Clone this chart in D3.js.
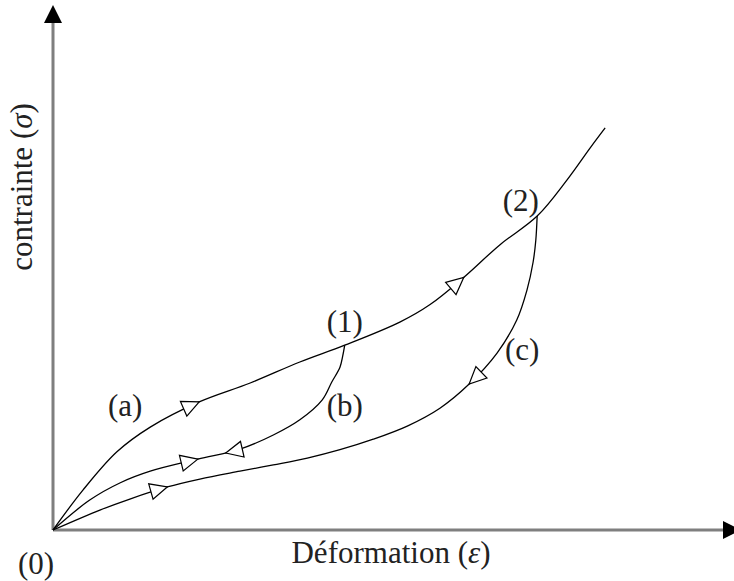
<!DOCTYPE html>
<html>
<head>
<meta charset="utf-8">
<script src="https://cdn.jsdelivr.net/npm/d3@7"></script>
<style>
  body { margin: 0; background: #fff; }
  svg { display: block; }
  text { font-family: "Liberation Serif", "DejaVu Serif", serif; fill: #222; }
</style>
</head>
<body>
<svg id="chart"></svg>
<script>
// strain / stress in arbitrary units (0..100 along each axis)
const loadA = [[0,0],[4.4,7.6],[9.4,14.9],[14.3,19.6],[21.5,24.4],[29.0,28.0],[36.3,32.0],[42.9,35.2],
  [51.0,39.6],[55.4,42.9],[60.3,48.0],[65.7,54.3],[71.2,59.8],[75.6,66.7],[79.0,72.8],[81.2,76.6]];
const unloadB = [[42.9,35.2],[42.6,33.1],[42.2,31.0],[41.0,28.2],[39.6,24.8],[36.3,21.0],[32.4,18.1],
  [27.5,15.4],[21.3,13.5],[14.3,11.2],[9.9,9.0],[5.4,5.7],[0,0]];
const unloadC = [[71.2,59.8],[71.0,55.2],[70.6,51.0],[69.7,45.7],[68.2,40.0],[65.3,33.7],[61.2,27.8],
  [56.9,23.2],[52.1,19.8],[47.1,17.3],[42.2,15.3],[37.4,13.7],[32.4,12.4],[27.5,11.2],[21.6,9.7],
  [16.8,8.2],[11.3,5.9],[6.9,3.8],[0,0]];

// arrow tips: which curve, strain at the tip, +1 = pointing to larger strain
const arrows = [
  {curve: 0, x: 21.5, dir: 1}, {curve: 0, x: 60.4, dir: 1},
  {curve: 1, x: 21.3, dir: 1}, {curve: 1, x: 25.4, dir: -1},
  {curve: 2, x: 61.2, dir: -1}, {curve: 2, x: 16.8, dir: 1}
];

const labels = [
  {text: "(0)", x: -2.5, y: -6.4},
  {text: "(a)", x: 10.6, y: 23.8},
  {text: "(1)", x: 42.9, y: 39.8},
  {text: "(2)", x: 68.8, y: 62.8},
  {text: "(b)", x: 42.9, y: 23.8},
  {text: "(c)", x: 69.0, y: 34.3}
];

const width = 734, height = 581;
const svg = d3.select("#chart").attr("width", width).attr("height", height);

const x = d3.scaleLinear().domain([0, 100]).range([53, 733]);
const y = d3.scaleLinear().domain([0, 100]).range([530, 5]);

// axes
const axisColor = "#7f7f7f";
svg.append("line").attr("x1", x(0)).attr("y1", y(0)).attr("x2", x(0)).attr("y2", 22)
  .attr("stroke", axisColor).attr("stroke-width", 3);
svg.append("line").attr("x1", x(0)).attr("y1", y(0)).attr("x2", 724).attr("y2", y(0))
  .attr("stroke", axisColor).attr("stroke-width", 3);
svg.append("path").attr("d", `M${x(0)},5 L${x(0) + 9},23 L${x(0) - 9},23 Z`).attr("fill", "#000");
svg.append("path").attr("d", `M741,${y(0)} L723,${y(0) - 9} L723,${y(0) + 9} Z`).attr("fill", "#000");

// curves
const line = d3.line().x(d => x(d[0])).y(d => y(d[1])).curve(d3.curveCatmullRom.alpha(0.5));
const paths = svg.append("g")
  .selectAll("path")
  .data([loadA, unloadB, unloadC])
  .join("path")
  .attr("d", line)
  .attr("fill", "none")
  .attr("stroke", "#000")
  .attr("stroke-width", 1.3)
  .nodes();

// find length along a path where it reaches a given pixel x (curves are monotone in x)
function lengthAtX(p, px) {
  const total = p.getTotalLength();
  const start = p.getPointAtLength(0).x;
  let lo = 0, hi = total;
  for (let i = 0; i < 40; i++) {
    const mid = (lo + hi) / 2;
    const mx = p.getPointAtLength(mid).x;
    if ((mx - px) * (p.getPointAtLength(total).x - start) < 0) lo = mid; else hi = mid;
  }
  return (lo + hi) / 2;
}

const arrowLen = 17, arrowHalf = 8;
svg.append("g")
  .selectAll("path")
  .data(arrows)
  .join("path")
  .attr("d", d => {
    const p = paths[d.curve];
    const L = lengthAtX(p, x(d.x));
    const tip = p.getPointAtLength(L);
    const a = p.getPointAtLength(Math.max(0, L - 3));
    const b = p.getPointAtLength(Math.min(p.getTotalLength(), L + 3));
    let dx = b.x - a.x, dy = b.y - a.y;
    if (Math.sign(dx) !== d.dir) { dx = -dx; dy = -dy; }
    const n = Math.hypot(dx, dy);
    const ux = dx / n, uy = dy / n;
    const bx = tip.x - ux * arrowLen, by = tip.y - uy * arrowLen;
    return `M${tip.x},${tip.y} L${bx - uy * arrowHalf},${by + ux * arrowHalf} L${bx + uy * arrowHalf},${by - ux * arrowHalf} Z`;
  })
  .attr("fill", "#fff")
  .attr("stroke", "#000")
  .attr("stroke-width", 1.2)
  .attr("stroke-linejoin", "miter");

// point labels
svg.append("g")
  .selectAll("text")
  .data(labels)
  .join("text")
  .attr("x", d => x(d.x))
  .attr("y", d => y(d.y))
  .attr("text-anchor", "middle")
  .attr("dominant-baseline", "central")
  .attr("font-size", 31)
  .text(d => d.text);

// axis titles
const xt = svg.append("text").attr("x", 391).attr("y", 563).attr("text-anchor", "middle").attr("font-size", 31);
xt.append("tspan").text("Déformation (");
xt.append("tspan").attr("font-style", "italic").text("ε");
xt.append("tspan").text(")");

const yt = svg.append("text").attr("transform", "translate(32,187) rotate(-90)").attr("text-anchor", "middle").attr("font-size", 31);
yt.append("tspan").text("contrainte (");
yt.append("tspan").attr("font-style", "italic").text("σ");
yt.append("tspan").text(")");
</script>
</body>
</html>
